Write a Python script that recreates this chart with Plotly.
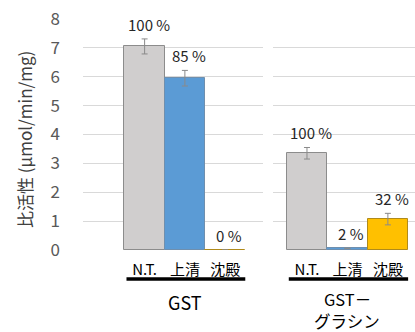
import plotly.graph_objects as go
from plotly.subplots import make_subplots

# ---- data ----
categories = ["N.T.", "上清", "沈殿"]
group1 = "GST"
group2_lines = ["GST－", "グラシン"]
gst_values = [7.05, 5.95, 0.0]
gst_errors = [0.26, 0.27, 0.0]
gst_labels = ["100 %", "85 %", "0 %"]
glc_values = [3.35, 0.06, 1.07]
glc_errors = [0.20, 0.0, 0.20]
glc_labels = ["100 %", "2 %", "32 %"]
y_ticks = [0, 1, 2, 3, 4, 5, 6, 7, 8]

bar_colors = ["#D0CECE", "#5B9BD5", "#FFC000"]
line_colors = ["#8c8c8c", "#6f8fae", "#b08a1a"]
FONT = "Noto Sans CJK JP"

W, H = 415, 332
ML, MR, MT, MB = 83, 0, 19, 82
PW = W - ML - MR
PH = H - MT - MB

fig = make_subplots(rows=1, cols=2, shared_yaxes=True)

xpos = list(range(len(categories)))
panels = [(gst_values, gst_errors, gst_labels, 1), (glc_values, glc_errors, glc_labels, 2)]
for vals, errs, labs, col in panels:
    fig.add_trace(go.Bar(
        x=xpos, y=vals, width=1.0,
        marker=dict(color=bar_colors, line=dict(color=line_colors, width=1)),
        error_y=dict(type="data", array=errs, visible=True, color="#8a8a8a", thickness=1, width=3),
        showlegend=False, hoverinfo="skip",
    ), row=1, col=col)
    xr = "x" if col == 1 else "x2"
    yr = "y" if col == 1 else "y2"
    for xi, v, e, t in zip(xpos, vals, errs, labs):
        fig.add_annotation(x=xi, y=v + e, xref=xr, yref=yr, text=t, showarrow=False,
                           yanchor="bottom", yshift=2, xshift=4,
                           font=dict(family=FONT, size=15, color="#262626"))
    # underline
    fig.add_shape(type="line", xref=xr, yref="paper", x0=-0.45, x1=2.5,
                  y0=-29 / PH, y1=-29 / PH, line=dict(color="black", width=3.5))

# group labels
fig.add_annotation(x=1, y=-52 / PH, xref="x", yref="paper", text=group1, showarrow=False,
                   yanchor="middle", xanchor="center",
                   font=dict(family=FONT, size=18, color="#000000"))
for i, line in enumerate(group2_lines):
    fig.add_annotation(x=1, y=-(49 + 22 * i) / PH, xref="x2", yref="paper", text=line,
                       showarrow=False, yanchor="middle", xanchor="center", borderpad=0,
                       font=dict(family=FONT, size=16.5, color="#000000"))

# y axis title
fig.add_annotation(x=-59 / PW, y=(250 - 140) / PH, xref="paper", yref="paper",
                   text="比活性 (µmol/min/mg)", textangle=-90, showarrow=False,
                   xanchor="center", yanchor="middle",
                   font=dict(family=FONT, size=17, color="#404040"))

d1 = 180 / PW
d2 = 190 / PW
xaxis_common = dict(tickmode="array", tickvals=xpos, ticktext=categories, showgrid=False,
                    zeroline=False, showline=False, ticks="outside", ticklen=6,
                    tickcolor="rgba(0,0,0,0)",
                    tickfont=dict(family=FONT, size=15, color="#000000"), fixedrange=True)
fig.update_layout(
    width=W, height=H,
    margin=dict(l=ML, r=MR, t=MT, b=MB),
    paper_bgcolor="white", plot_bgcolor="white",
    bargap=0,
    xaxis=dict(domain=[0, d1], range=[-1.53, 2.94], **xaxis_common),
    xaxis2=dict(domain=[d2, 1], range=[-0.84, 2.67], **xaxis_common),
    yaxis=dict(range=[0, 8], tickvals=y_ticks, showgrid=True, gridcolor="#d9d9d9",
               gridwidth=1, zeroline=False, showline=False, ticks="",
               ticklabelstandoff=22,
               tickfont=dict(family=FONT, size=17, color="#595959")),
    yaxis2=dict(range=[0, 8], tickvals=y_ticks, showgrid=True, gridcolor="#d9d9d9",
                gridwidth=1, zeroline=False, showline=False, showticklabels=False),
)

fig.write_html("out.html")
